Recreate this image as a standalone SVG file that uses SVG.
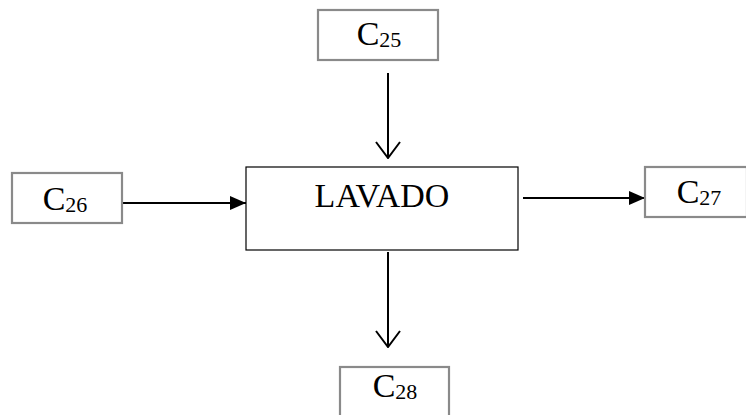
<svg xmlns="http://www.w3.org/2000/svg" width="746" height="415" viewBox="0 0 746 415">
<style>
.sb{fill:#fff;stroke:#8a8a8a;stroke-width:2.2}
.mb{fill:#fff;stroke:#000;stroke-width:1.2}
.t{font-family:"Liberation Serif",serif;fill:#000}
.c{font-size:34px}
.s{font-size:22px}
.ln{stroke:#000;stroke-width:2;fill:none}
</style>
<defs>
<marker id="fa" viewBox="0 0 16 14" refX="16" refY="7" markerWidth="16" markerHeight="14" markerUnits="userSpaceOnUse" orient="auto">
<path d="M0,0 L16,7 L0,14 Z" fill="#000"/>
</marker>
<marker id="oa" viewBox="0 0 18 26" refX="17" refY="13" markerWidth="18" markerHeight="26" markerUnits="userSpaceOnUse" orient="auto">
<path d="M1,1 L17,13 L1,25" fill="none" stroke="#000" stroke-width="2"/>
</marker>
</defs>
<g id="connectors">
<line class="ln" x1="388" y1="73" x2="388" y2="158" marker-end="url(#oa)"/>
<line class="ln" x1="122" y1="203" x2="246" y2="203" marker-end="url(#fa)"/>
<line class="ln" x1="523" y1="198" x2="645" y2="198" marker-end="url(#fa)"/>
<line class="ln" x1="388" y1="252" x2="388" y2="347" marker-end="url(#oa)"/>
</g>
<g id="lavado">
<rect class="mb" x="246" y="167" width="272" height="83"/>
<text class="t" x="382" y="207" font-size="34" text-anchor="middle">LAVADO</text>
</g>
<g id="c25">
<rect class="sb" x="318" y="10" width="120" height="50"/>
<text class="t" x="379" y="45" text-anchor="middle"><tspan class="c">C</tspan><tspan class="s" dy="2">25</tspan></text>
</g>
<g id="c26">
<rect class="sb" x="12" y="173" width="110" height="50"/>
<text class="t" x="65" y="210" text-anchor="middle"><tspan class="c">C</tspan><tspan class="s" dy="2">26</tspan></text>
</g>
<g id="c27">
<rect class="sb" x="645" y="167" width="102" height="50"/>
<text class="t" x="699" y="203" text-anchor="middle"><tspan class="c">C</tspan><tspan class="s" dy="2">27</tspan></text>
</g>
<g id="c28">
<rect class="sb" x="340" y="367" width="109" height="50"/>
<text class="t" x="395" y="397" text-anchor="middle"><tspan class="c">C</tspan><tspan class="s" dy="2">28</tspan></text>
</g>
</svg>
